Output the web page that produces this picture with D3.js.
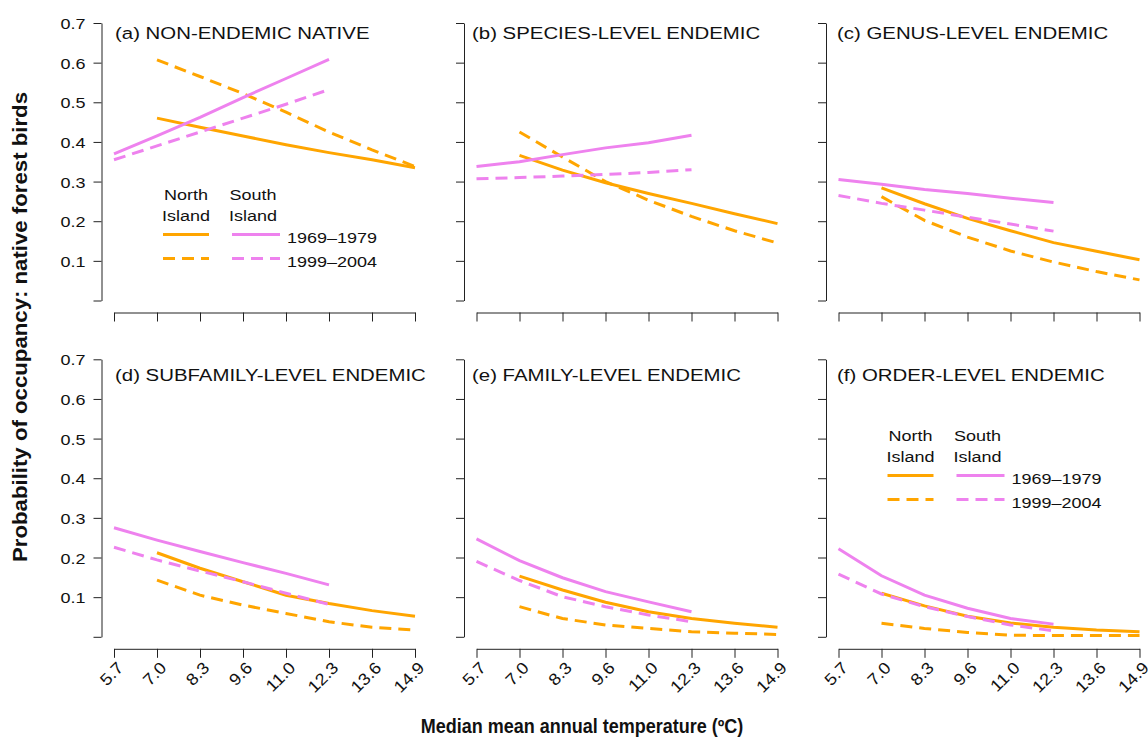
<!DOCTYPE html>
<html>
<head>
<meta charset="utf-8">
<script src="https://cdn.jsdelivr.net/npm/d3@7"></script>
<style>
  body { margin: 0; background: #fff; }
  svg text { font-family: "Liberation Sans", Arial, Helvetica, sans-serif; fill: #111; }
  .axis path, .axis line { stroke: #222; stroke-width: 1; }
</style>
</head>
<body>
<div class="chart"></div>
<script>
// temperature classes on the x axis
const temps = ["5.7", "7.0", "8.3", "9.6", "11.0", "12.3", "13.6", "14.9"];
const northTemps = temps.slice(1);     // North Island: 7.0 - 14.9
const southTemps = temps.slice(0, 6);  // South Island: 5.7 - 12.3
const yTicks = [0, 0.1, 0.2, 0.3, 0.4, 0.5, 0.6, 0.7];

const panelTitles = [
    "(a) NON-ENDEMIC NATIVE", "(b) SPECIES-LEVEL ENDEMIC", "(c) GENUS-LEVEL ENDEMIC",
    "(d) SUBFAMILY-LEVEL ENDEMIC", "(e) FAMILY-LEVEL ENDEMIC", "(f) ORDER-LEVEL ENDEMIC"
];

// one row per panel (a-f)
const north1969 = [
    [0.460, 0.437, 0.415, 0.393, 0.373, 0.355, 0.335],
    [0.366, 0.329, 0.297, 0.270, 0.245, 0.219, 0.194],
    [0.284, 0.244, 0.207, 0.176, 0.146, 0.124, 0.103],
    [0.212, 0.173, 0.139, 0.105, 0.084, 0.066, 0.052],
    [0.153, 0.118, 0.087, 0.063, 0.046, 0.034, 0.024],
    [0.110, 0.078, 0.052, 0.035, 0.024, 0.017, 0.013]
];
const north1999 = [
    [0.607, 0.565, 0.522, 0.475, 0.425, 0.380, 0.338],
    [0.425, 0.362, 0.300, 0.253, 0.212, 0.176, 0.145],
    [0.262, 0.202, 0.160, 0.125, 0.097, 0.073, 0.052],
    [0.143, 0.105, 0.080, 0.059, 0.038, 0.024, 0.017],
    [0.076, 0.046, 0.030, 0.021, 0.013, 0.009, 0.006],
    [0.034, 0.021, 0.011, 0.004, 0.003, 0.003, 0.003]
];
const south1969 = [
    [0.370, 0.415, 0.462, 0.512, 0.560, 0.608],
    [0.338, 0.350, 0.368, 0.385, 0.398, 0.417],
    [0.305, 0.293, 0.280, 0.270, 0.258, 0.247],
    [0.275, 0.244, 0.215, 0.187, 0.160, 0.131],
    [0.247, 0.192, 0.149, 0.114, 0.088, 0.063],
    [0.222, 0.154, 0.105, 0.072, 0.046, 0.032]
];
const south1999 = [
    [0.355, 0.390, 0.425, 0.460, 0.495, 0.532],
    [0.307, 0.310, 0.314, 0.318, 0.323, 0.330],
    [0.265, 0.245, 0.228, 0.210, 0.193, 0.175],
    [0.226, 0.194, 0.166, 0.139, 0.110, 0.082],
    [0.190, 0.142, 0.101, 0.076, 0.055, 0.038],
    [0.158, 0.108, 0.076, 0.051, 0.030, 0.015]
];

const islandLabels = [["North", "Island"], ["South", "Island"]];
const periodLabels = ["1969\u20131979", "1999\u20132004"];

const northColor = "orange";
const southColor = "violet";
const dash = "12,7";

// layout
const width = 1148, height = 737;
const colX = [114, 476.5, 838.5];
const rowTop = [23, 359.3];
const titleX = [115, 472, 837];
const titleY = [38.5, 380.5];
const plotW = 301, plotH = 277.5;
const sx = 1.2; // text in the reference is a bit wide

const svg = d3.select(".chart").append("svg")
    .attr("width", width)
    .attr("height", height);

const x = d3.scalePoint().domain(temps).range([0, plotW]);
const y = d3.scaleLinear().domain([0, 0.7]).range([plotH, 0]);

const line = d3.line()
    .x(d => x(d.t))
    .y(d => y(d.v));

function wideText(sel, px, py, str, size, anchor, weight) {
    return sel.append("text")
        .attr("transform", "translate(" + px + "," + py + ") scale(" + sx + ",1)")
        .attr("text-anchor", anchor || "start")
        .style("font-size", size + "px")
        .style("font-weight", weight || "normal")
        .text(str);
}

panelTitles.forEach((title, i) => {
    const col = i % 3, row = Math.floor(i / 3);
    const g = svg.append("g")
        .attr("transform", "translate(" + colX[col] + "," + rowTop[row] + ")");

    // y axis
    const yAxis = d3.axisLeft(y)
        .tickValues(yTicks)
        .tickSize(8)
        .tickSizeOuter(0)
        .tickFormat(d => (col === 0 && d > 0) ? d3.format(".1f")(d) : "");
    const ya = g.append("g")
        .attr("class", "axis")
        .attr("transform", "translate(-12.5,0)")
        .call(yAxis);
    ya.selectAll("text")
        .attr("x", null).attr("dy", null)
        .attr("transform", "translate(-16,5.5) scale(" + sx + ",1)")
        .attr("text-anchor", "end")
        .attr("fill", "#111")
        .style("font-size", "15px")
        .style("font-family", "Liberation Sans, Arial, sans-serif");

    // x axis
    const xAxis = d3.axisBottom(x)
        .tickSize(9)
        .tickSizeOuter(0)
        .tickFormat(d => row === 1 ? d : "");
    const xa = g.append("g")
        .attr("class", "axis")
        .attr("transform", "translate(0," + (plotH + 12) + ")")
        .call(xAxis);
    xa.selectAll("text")
        .attr("y", null).attr("dy", null)
        .attr("transform", "translate(10,20) rotate(-45) scale(1.1,1)")
        .attr("text-anchor", "end")
        .attr("fill", "#111")
        .style("font-size", "16.5px")
        .style("font-family", "Liberation Sans, Arial, sans-serif");

    // lines
    const series = [
        { t: northTemps, v: north1969[i], c: northColor, d: null },
        { t: northTemps, v: north1999[i], c: northColor, d: dash },
        { t: southTemps, v: south1969[i], c: southColor, d: null },
        { t: southTemps, v: south1999[i], c: southColor, d: dash }
    ];
    series.forEach(s => {
        g.append("path")
            .datum(s.t.map((t, k) => ({ t: t, v: s.v[k] })))
            .attr("fill", "none")
            .attr("stroke", s.c)
            .attr("stroke-width", 3)
            .attr("stroke-dasharray", s.d)
            .attr("d", line);
    });

    wideText(svg, titleX[col], titleY[row], title, 17);
});

// legends in panels (a) and (f): [left x, baseline of first legend row]
const legendPos = [[114, 200], [838.5, 441]];
legendPos.forEach(p => {
    const g = svg.append("g").attr("transform", "translate(" + p[0] + "," + p[1] + ")");
    const centers = [72, 139];
    const spans = [[49, 95], [118, 166]];
    const colors = [northColor, southColor];
    islandLabels.forEach((lab, j) => {
        wideText(g, centers[j], 0, lab[0], 15, "middle");
        wideText(g, centers[j], 20.5, lab[1], 15, "middle");
        [null, dash].forEach((d, k) => {
            g.append("line")
                .attr("x1", spans[j][0]).attr("x2", spans[j][1])
                .attr("y1", 34.5 + k * 24).attr("y2", 34.5 + k * 24)
                .attr("stroke", colors[j])
                .attr("stroke-width", 3)
                .attr("stroke-dasharray", d);
        });
    });
    periodLabels.forEach((lab, k) => {
        wideText(g, 173, 42.5 + k * 24.5, lab, 15, "start");
    });
});

// axis titles
svg.append("text")
    .attr("transform", "translate(27,327) rotate(-90)")
    .attr("text-anchor", "middle")
    .attr("textLength", 470)
    .attr("lengthAdjust", "spacingAndGlyphs")
    .style("font-size", "20px")
    .style("font-weight", "bold")
    .text("Probability of occupancy: native forest birds");

svg.append("text")
    .attr("transform", "translate(582,733) scale(0.9,1)")
    .attr("text-anchor", "middle")
    .style("font-size", "20px")
    .style("font-weight", "bold")
    .text("Median mean annual temperature (\u00baC)");
</script>
</body>
</html>
